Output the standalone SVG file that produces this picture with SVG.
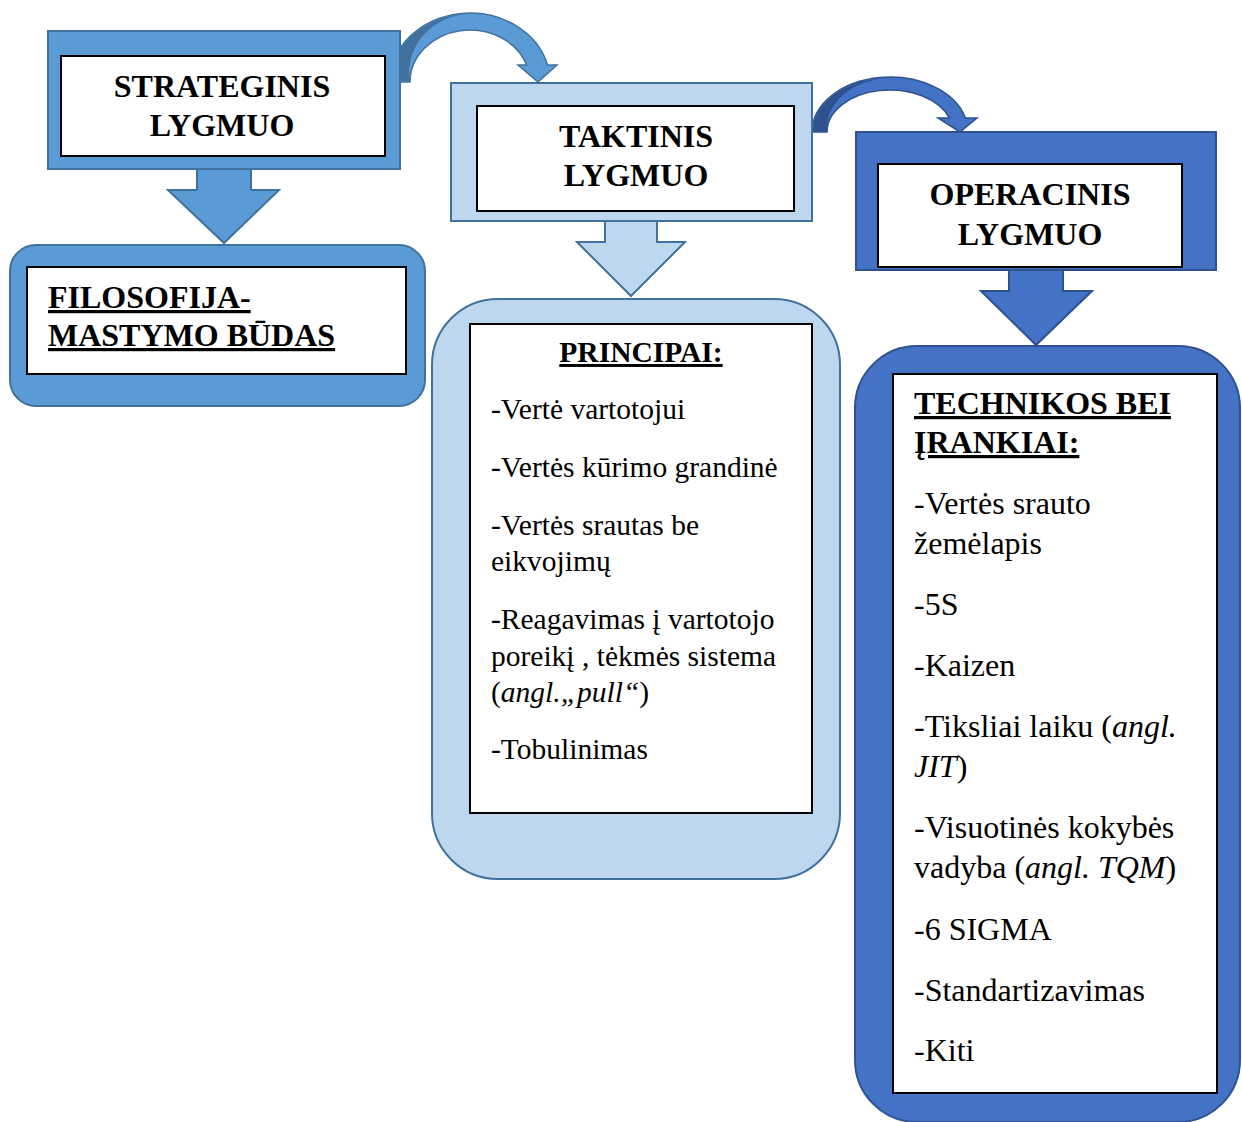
<svg xmlns="http://www.w3.org/2000/svg" width="1242" height="1122" viewBox="0 0 1242 1122">
<style>
.t{font-family:"Liberation Serif","Times New Roman",serif;fill:#000}
.h{font-weight:bold;font-size:32px}
.u{text-decoration:underline}
.p{font-size:29.5px}
.q{font-size:32px}
.box{fill:#fff;stroke:#000;stroke-width:2}
.c1{fill:#5B9BD5;stroke:#41719C;stroke-width:2}
.c2{fill:#BDD7EE;stroke:#41719C;stroke-width:2}
.c3{fill:#4472C4;stroke:#2F528F;stroke-width:2}
</style>
<g id="connectors">
  <path class="c1" d="M197 169 L251 169 L251 190 L279 190 L224 243 L168 190 L197 190 Z"/>
  <path class="c2" d="M605 221 L657 221 L657 242 L685 242 L631 296 L577 242 L605 242 Z"/>
  <path class="c3" d="M1009 270 L1063 270 L1063 291 L1092 291 L1036 345 L981 291 L1009 291 Z"/>
  <path fill="#5B9BD5" stroke="#41719C" stroke-width="1.5" d="M390 82 A80 69 0 0 1 547.5 65 L557 65 L538 82 L518 65 L526.7 65 A60 52 0 0 0 410 82 Z"/>
  <path fill="#41719C" d="M391 81 A79 68 0 0 1 470 14 A62 58 0 0 0 410 81 Z"/>
  <path fill="#4472C4" stroke="#2F528F" stroke-width="1.5" d="M812 132 A78 55 0 0 1 965.4 118 L977 118 L960 132 L938 118 L949.4 118 A63 42 0 0 0 827 132 Z"/>
  <path fill="#2F528F" d="M813 131 A77 54 0 0 1 890 78 A65 50 0 0 0 827 131 Z"/>
</g>
<g id="strateginis">
  <rect class="c1" x="48" y="31" width="352" height="138"/>
  <rect class="box" x="61" y="56" width="324" height="100"/>
  <text class="t h" x="222" y="97" text-anchor="middle">STRATEGINIS</text>
  <text class="t h" x="222" y="136" text-anchor="middle">LYGMUO</text>
</g>
<g id="filosofija">
  <rect class="c1" x="10" y="245" width="415" height="161" rx="26"/>
  <rect class="box" x="27" y="267" width="379" height="107"/>
  <text class="t h u" x="48" y="308">FILOSOFIJA-</text>
  <text class="t h u" x="48" y="346">MASTYMO BŪDAS</text>
</g>
<g id="taktinis">
  <rect class="c2" x="451" y="83" width="361" height="138"/>
  <rect class="box" x="477" y="106" width="317" height="105"/>
  <text class="t h" x="636" y="147" text-anchor="middle">TAKTINIS</text>
  <text class="t h" x="636" y="186" text-anchor="middle">LYGMUO</text>
</g>
<g id="principai">
  <rect class="c2" x="432" y="299" width="408" height="580" rx="66"/>
  <rect class="box" x="470" y="324" width="342" height="489"/>
  <text class="t u" style="font-weight:bold;font-size:29.5px" x="641" y="362" text-anchor="middle">PRINCIPAI:</text>
  <text class="t p" x="491" y="419">-Vertė vartotojui</text>
  <text class="t p" x="491" y="477">-Vertės kūrimo grandinė</text>
  <text class="t p" x="491" y="535">-Vertės srautas be</text>
  <text class="t p" x="491" y="571">eikvojimų</text>
  <text class="t p" x="491" y="629">-Reagavimas į vartotojo</text>
  <text class="t p" x="491" y="666">poreikį , tėkmės sistema</text>
  <text class="t p" x="491" y="702">(<tspan font-style="italic">angl.„pull“</tspan>)</text>
  <text class="t p" x="491" y="759">-Tobulinimas</text>
</g>
<g id="operacinis">
  <rect class="c3" x="856" y="132" width="360" height="138"/>
  <rect class="box" x="878" y="164" width="304" height="103"/>
  <text class="t h" x="1030" y="205" text-anchor="middle">OPERACINIS</text>
  <text class="t h" x="1030" y="245" text-anchor="middle">LYGMUO</text>
</g>
<g id="technikos">
  <rect class="c3" x="855" y="346" width="385" height="776" rx="62"/>
  <rect class="box" x="893" y="374" width="324" height="719"/>
  <text class="t h u" x="914" y="414">TECHNIKOS BEI</text>
  <text class="t h u" x="914" y="453">ĮRANKIAI:</text>
  <text class="t q" x="914" y="514">-Vertės srauto</text>
  <text class="t q" x="914" y="554">žemėlapis</text>
  <text class="t q" x="914" y="615">-5S</text>
  <text class="t q" x="914" y="676">-Kaizen</text>
  <text class="t q" x="914" y="737">-Tiksliai laiku (<tspan font-style="italic">angl.</tspan></text>
  <text class="t q" x="914" y="777"><tspan font-style="italic">JIT</tspan>)</text>
  <text class="t q" x="914" y="838">-Visuotinės kokybės</text>
  <text class="t q" x="914" y="878">vadyba (<tspan font-style="italic">angl. TQM</tspan>)</text>
  <text class="t q" x="914" y="940">-6 SIGMA</text>
  <text class="t q" x="914" y="1001">-Standartizavimas</text>
  <text class="t q" x="914" y="1061">-Kiti</text>
</g>
</svg>
